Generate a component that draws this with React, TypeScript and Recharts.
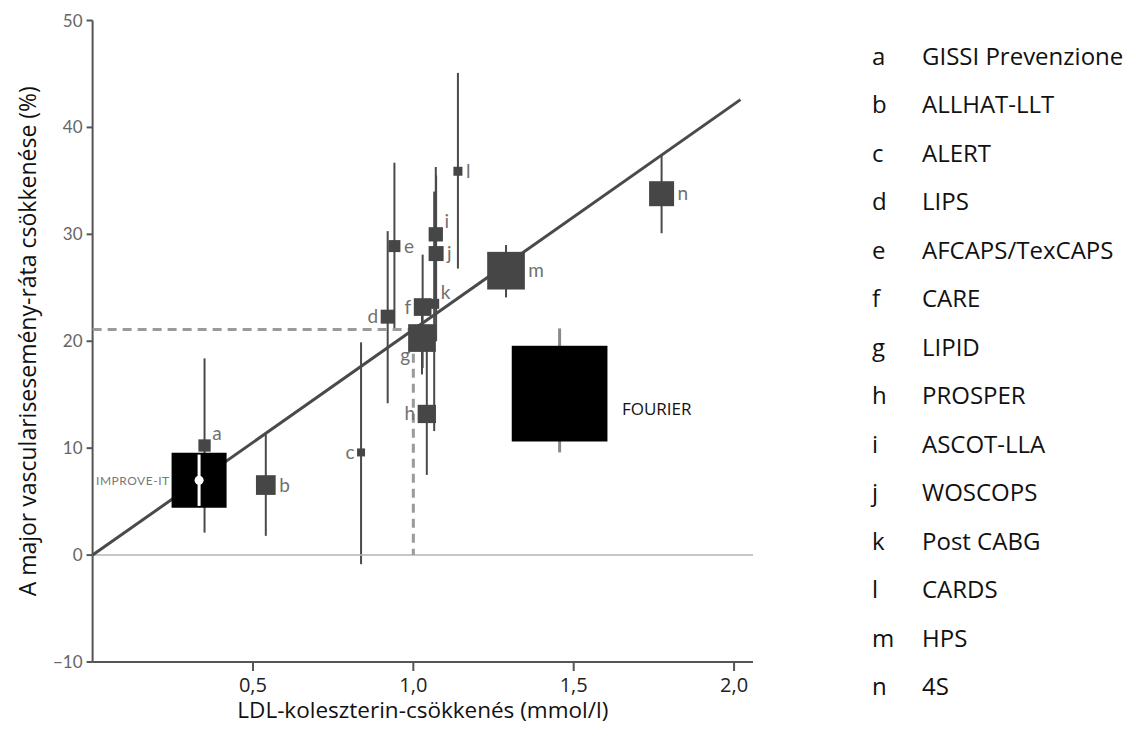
import React from 'react';
import { ScatterChart, Scatter, XAxis, YAxis, ZAxis, ErrorBar } from 'recharts';

// ---- Data ----
const studyLetters = ['a', 'b', 'c', 'd', 'e', 'f', 'g', 'h', 'i', 'j', 'k', 'l', 'm', 'n'];
const studyNames = [
  'GISSI Prevenzione', 'ALLHAT-LLT', 'ALERT', 'LIPS', 'AFCAPS/TexCAPS', 'CARE', 'LIPID',
  'PROSPER', 'ASCOT-LLA', 'WOSCOPS', 'Post CABG', 'CARDS', 'HPS', '4S',
];
const ldlReduction = [0.349, 0.54, 0.837, 0.92, 0.941, 1.029, 1.027, 1.042, 1.07, 1.071, 1.065, 1.139, 1.289, 1.774];
const eventReduction = [10.25, 6.55, 9.6, 22.3, 28.9, 23.2, 20.3, 13.2, 30.0, 28.2, 23.5, 35.9, 26.6, 33.8];
const ciLow = [2.1, 1.8, -0.85, 14.2, 21.0, 17.5, 16.9, 7.5, 24.0, 20.0, 11.6, 26.8, 24.1, 30.1];
const ciHigh = [18.4, 11.3, 19.9, 30.3, 36.7, 28.1, 23.6, 19.5, 36.3, 35.5, 34.0, 45.1, 29.0, 37.4];
const studyWeight = [1.51, 3.88, 0.64, 1.96, 1.44, 3.13, 7.67, 3.35, 2.04, 2.25, 1.0, 0.81, 14.2, 6.25];

const highlightNames = ['IMPROVE-IT', 'FOURIER'];
const highlightLdl = [0.332, 1.456];
const highlightReduction = [7.0, 15.1];
const highlightLow = [4.6, 9.6];
const highlightHigh = [9.4, 21.2];
const highlightWeight = [30.25, 91.6];

const trendLdl = [0, 2.02];
const trendReduction = [0, 42.6];
const guideLdl = [0, 1, 1];
const guideReduction = [21.1, 21.1, 0];
const zeroLdl = [0, 2.059];
const zeroReduction = [0, 0];

const xTicks = [0.5, 1, 1.5, 2];
const yTicks = [-10, 0, 10, 20, 30, 40, 50];

// label placement around each study square (styling)
const labelPlacement: Record<string, string> = {
  a: 'rt', b: 'r', c: 'l', d: 'l', e: 'r', f: 'l', g: 'bl', h: 'l', i: 'rt', j: 'r', k: 'rt', l: 'r', m: 'r', n: 'r',
};

const studies = studyLetters.map((letter, i) => ({
  letter,
  x: ldlReduction[i],
  y: eventReduction[i],
  w: studyWeight[i],
  err: [eventReduction[i] - ciLow[i], ciHigh[i] - eventReduction[i]],
}));
const highlights = highlightNames.map((name, i) => ({
  name,
  x: highlightLdl[i],
  y: highlightReduction[i],
  w: highlightWeight[i],
  err: [highlightReduction[i] - highlightLow[i], highlightHigh[i] - highlightReduction[i]],
}));
const fourier = [highlights[1]];
const improve = [highlights[0]];
const improveCi = [
  { x: highlightLdl[0], y: highlightLow[0] },
  { x: highlightLdl[0], y: highlightHigh[0] },
];
const trend = trendLdl.map((x, i) => ({ x, y: trendReduction[i] }));
const guide = guideLdl.map((x, i) => ({ x, y: guideReduction[i] }));
const zero = zeroLdl.map((x, i) => ({ x, y: zeroReduction[i] }));

const sideOf = (p: any) =>
  p.size != null && !isNaN(p.size) ? Math.sqrt(p.size) : (p.width * Math.sqrt(Math.PI)) / 2;

const labelFont = 'Lato, "Open Sans", sans-serif';

const StudyShape = (p: any) => {
  const { cx, cy, payload } = p;
  const side = sideOf(p);
  const h = side / 2;
  const place = labelPlacement[payload.letter];
  let tx = cx + h + 3.5;
  let ty = cy + 6.5;
  let anchor: any = 'start';
  if (place === 'rt') {
    tx = cx + h + 1.5;
    ty = cy - h + 0.5;
  } else if (place === 'l') {
    tx = cx - h - 2.5;
    anchor = 'end';
  } else if (place === 'bl') {
    tx = cx - h + 2;
    ty = cy + h + 10;
    anchor = 'end';
  }
  return (
    <g>
      <rect x={cx - h} y={cy - h} width={side} height={side} fill="#464646" />
      <text x={tx} y={ty} textAnchor={anchor} fontFamily={labelFont} fontSize={19} fill="#707070">
        {payload.letter}
      </text>
    </g>
  );
};

const FourierShape = (p: any) => {
  const { cx, cy, payload } = p;
  const side = sideOf(p);
  const h = side / 2;
  return (
    <g>
      <rect x={cx - h} y={cy - h} width={side} height={side} fill="#000" />
      <text x={cx + h + 14.5} y={cy + 21} fontFamily='"Open Sans", sans-serif' fontSize={17} fill="#111">
        {payload.name}
      </text>
    </g>
  );
};

const ImproveShape = (p: any) => {
  const { cx, cy, payload } = p;
  const side = sideOf(p);
  const h = side / 2;
  return (
    <g>
      <rect x={cx - h} y={cy - h} width={side} height={side} fill="#000" />
      <text
        x={cx - h - 2}
        y={cy + 5}
        textAnchor="end"
        fontFamily={labelFont}
        fontSize={12}
        letterSpacing={0.5}
        fill="#777"
      >
        {payload.name}
      </text>
    </g>
  );
};

const WhiteDot = (p: any) => <circle cx={p.cx} cy={p.cy} r={4.5} fill="#fff" />;
const NoShape = () => <g />;

const legendFont = '"Open Sans", sans-serif';

export default function App() {
  return (
    <div style={{ position: 'relative', width: 1128, height: 734 }}>
      <ScatterChart
        width={1128}
        height={734}
        margin={{ top: 12.5, right: 383, bottom: 20, left: 0 }}
      >
        <XAxis
          type="number"
          dataKey="x"
          domain={[0, 2.059]}
          ticks={xTicks}
          height={60}
          tickSize={9}
          tickMargin={7}
          axisLine={{ stroke: '#555', strokeWidth: 2 }}
          tickLine={{ stroke: '#555', strokeWidth: 2 }}
          tick={{ fontFamily: legendFont, fontSize: 20, fill: '#222' }}
          tickFormatter={(v: number) => v.toFixed(1).replace('.', ',')}
          label={{
            content: (lp: any) => {
              const vb = lp.viewBox;
              return (
                <text
                  x={vb.x + vb.width / 2}
                  y={vb.y + 56}
                  textAnchor="middle"
                  fontFamily={legendFont}
                  fontSize={22.5}
                  fill="#111"
                >
                  LDL-koleszterin-csökkenés (mmol/l)
                </text>
              );
            },
          }}
        />
        <YAxis
          type="number"
          dataKey="y"
          domain={[-10, 50]}
          ticks={yTicks}
          width={84.6}
          tickSize={6}
          tickMargin={4}
          axisLine={{ stroke: '#555', strokeWidth: 2 }}
          tickLine={{ stroke: '#555', strokeWidth: 2 }}
          tick={{ fontFamily: labelFont, fontSize: 17, fill: '#666' }}
          tickFormatter={(v: number) => (v < 0 ? '\u2212' + Math.abs(v) : String(v))}
          label={{
            content: (lp: any) => {
              const vb = lp.viewBox;
              const cy = vb.y + vb.height / 2;
              return (
                <text
                  x={28}
                  y={cy}
                  transform={`rotate(-90, 28, ${cy})`}
                  textAnchor="middle"
                  fontFamily={legendFont}
                  fontSize={23}
                  fill="#111"
                >
                  A major vascularisesemény-ráta csökkenése (%)
                </text>
              );
            },
          }}
        />
        <ZAxis type="number" dataKey="w" domain={[0, 100]} range={[0, 10000]} />
        <Scatter
          data={zero}
          line={{ stroke: '#b5b5b5', strokeWidth: 1.5 }}
          shape={NoShape}
          isAnimationActive={false}
        />
        <Scatter
          data={guide}
          line={{ stroke: '#9a9a9a', strokeWidth: 3, strokeDasharray: '9 6' }}
          shape={NoShape}
          isAnimationActive={false}
        />
        <Scatter
          data={trend}
          line={{ stroke: '#4a4a4a', strokeWidth: 3 }}
          shape={NoShape}
          isAnimationActive={false}
        />
        <Scatter data={studies} shape={StudyShape} isAnimationActive={false}>
          <ErrorBar dataKey="err" direction="y" width={0} stroke="#4a4a4a" strokeWidth={2} />
        </Scatter>
        <Scatter data={fourier} shape={FourierShape} isAnimationActive={false}>
          <ErrorBar dataKey="err" direction="y" width={0} stroke="#8a8a8a" strokeWidth={3} />
        </Scatter>
        <Scatter data={improve} shape={ImproveShape} isAnimationActive={false} />
        <Scatter
          data={improveCi}
          line={{ stroke: '#fff', strokeWidth: 3 }}
          shape={NoShape}
          isAnimationActive={false}
        />
        <Scatter data={improve} shape={WhiteDot} isAnimationActive={false} />
      </ScatterChart>
      <div
        style={{
          position: 'absolute',
          left: 864,
          top: 55 - 8 - 24.25,
          fontFamily: legendFont,
          fontSize: 24,
          color: '#111',
        }}
      >
        {studyLetters.map((l, i) => (
          <div key={l} style={{ display: 'flex', height: 48.5, alignItems: 'center', whiteSpace: 'nowrap' }}>
            <span style={{ width: 50, display: 'inline-block' }}>{l}</span>
            <span>{studyNames[i]}</span>
          </div>
        ))}
      </div>
    </div>
  );
}
